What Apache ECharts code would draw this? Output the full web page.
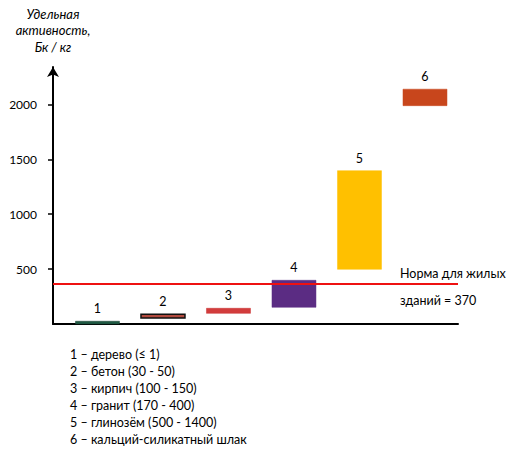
<!DOCTYPE html>
<html>
<head>
<meta charset="utf-8">
<script src="https://cdn.jsdelivr.net/npm/echarts@6/dist/echarts.min.js"></script>
<style>
html,body{margin:0;padding:0;background:#fff;}
#chart{width:513px;height:450px;}
</style>
</head>
<body>
<div id="chart"></div>
<script>
// ---- data ----
const barNumbers = ['1', '2', '3', '4', '5', '6'];
const materialNames = ['дерево', 'бетон', 'кирпич', 'гранит', 'глинозём', 'кальций-силикатный шлак'];
const rangeLabels = ['(≤ 1)', '(30 - 50)', '(100 - 150)', '(170 - 400)', '(500 - 1400)', ''];
const barLow = [0, 55, 97, 152, 498, 1988];
const barHigh = [25, 88, 143, 398, 1396, 2138];
const normValue = 370;
const yTickValues = [500, 1000, 1500, 2000];
const yTitle = 'Удельная\nактивность,\nБк / кг';
const normLabel = 'Норма для жилых\nзданий = ';

// ---- styles ----
const barColors = ['#1f5a43', '#b24a3e', '#d23c3c', '#5b2c83', '#ffc000', '#c8461c'];
const barBorders = ['#163d2e', '#111111', '#c83030', '#5b2c83', '#ffc000', '#c8461c'];
const FONT = 'Lato';

const xMin = 0.321, xMax = 6.504;

const rangeData = barNumbers.map((n, i) => [i + 1, barLow[i], barHigh[i]]);
const legendText = barNumbers.map((n, i) =>
  n + ' – ' + materialNames[i] + (rangeLabels[i] ? ' ' + rangeLabels[i] : '')).join('\n');

const chart = echarts.init(document.getElementById('chart'), null, {renderer: 'svg'});
chart.setOption({
  animation: false,
  backgroundColor: '#ffffff',
  grid: {left: 53, right: 55, top: 67, bottom: 126},
  xAxis: {
    type: 'value', min: xMin, max: xMax,
    axisLine: {show: true, onZero: false, lineStyle: {color: '#000', width: 2}},
    axisTick: {show: false}, axisLabel: {show: false}, splitLine: {show: false}
  },
  yAxis: {
    type: 'value', min: 0, max: 2340, interval: 500,
    name: yTitle, nameLocation: 'end', nameGap: 12,
    nameTextStyle: {fontFamily: FONT, fontStyle: 'italic', fontSize: 13, color: '#000', lineHeight: 16.5, align: 'center', verticalAlign: 'bottom'},
    axisLine: {show: true, symbol: ['none', 'arrow'], symbolSize: [9, 10], lineStyle: {color: '#000', width: 2}},
    axisTick: {show: true, inside: false, length: 5, customValues: yTickValues, lineStyle: {color: '#000', width: 1.5}},
    axisLabel: {customValues: yTickValues, margin: 16, fontFamily: FONT, fontSize: 12, color: '#000',
      formatter: function (v) { return String(v); }},
    splitLine: {show: false}
  },
  series: [
    {
      type: 'custom',
      z: 2,
      data: rangeData,
      encode: {x: 0, y: [1, 2]},
      renderItem: function (params, api) {
        const x = api.value(0);
        const lo = api.coord([x, api.value(1)]);
        const hi = api.coord([x, api.value(2)]);
        const w = 44;
        const i = params.dataIndex;
        return {
          type: 'group',
          children: [
            {
              type: 'rect',
              shape: {x: lo[0] - w / 2, y: hi[1], width: w, height: lo[1] - hi[1]},
              style: {fill: barColors[i], stroke: barBorders[i], lineWidth: i === 1 ? 1.5 : 0.5}
            },
            {
              type: 'text',
              style: {
                text: barNumbers[i], x: hi[0], y: hi[1] - 6,
                align: 'center', verticalAlign: 'bottom',
                fontFamily: FONT, fontSize: 12.5, fill: '#000'
              }
            }
          ]
        };
      },
      markLine: {
        silent: true,
        symbol: ['none', 'none'],
        label: {show: false},
        lineStyle: {color: '#ee1111', width: 2, type: 'solid', opacity: 1},
        emphasis: {disabled: true},
        data: [{yAxis: normValue}]
      }
    }
  ],
  graphic: [
    {
      type: 'text', left: 400, top: 260,
      style: {text: normLabel + normValue, fontFamily: FONT, fontSize: 12.5, fill: '#000', lineHeight: 27}
    },
    {
      type: 'text', left: 70, top: 346,
      style: {text: legendText, fontFamily: FONT, fontSize: 12.5, fill: '#000', lineHeight: 17}
    }
  ]
});
</script>
</body>
</html>
